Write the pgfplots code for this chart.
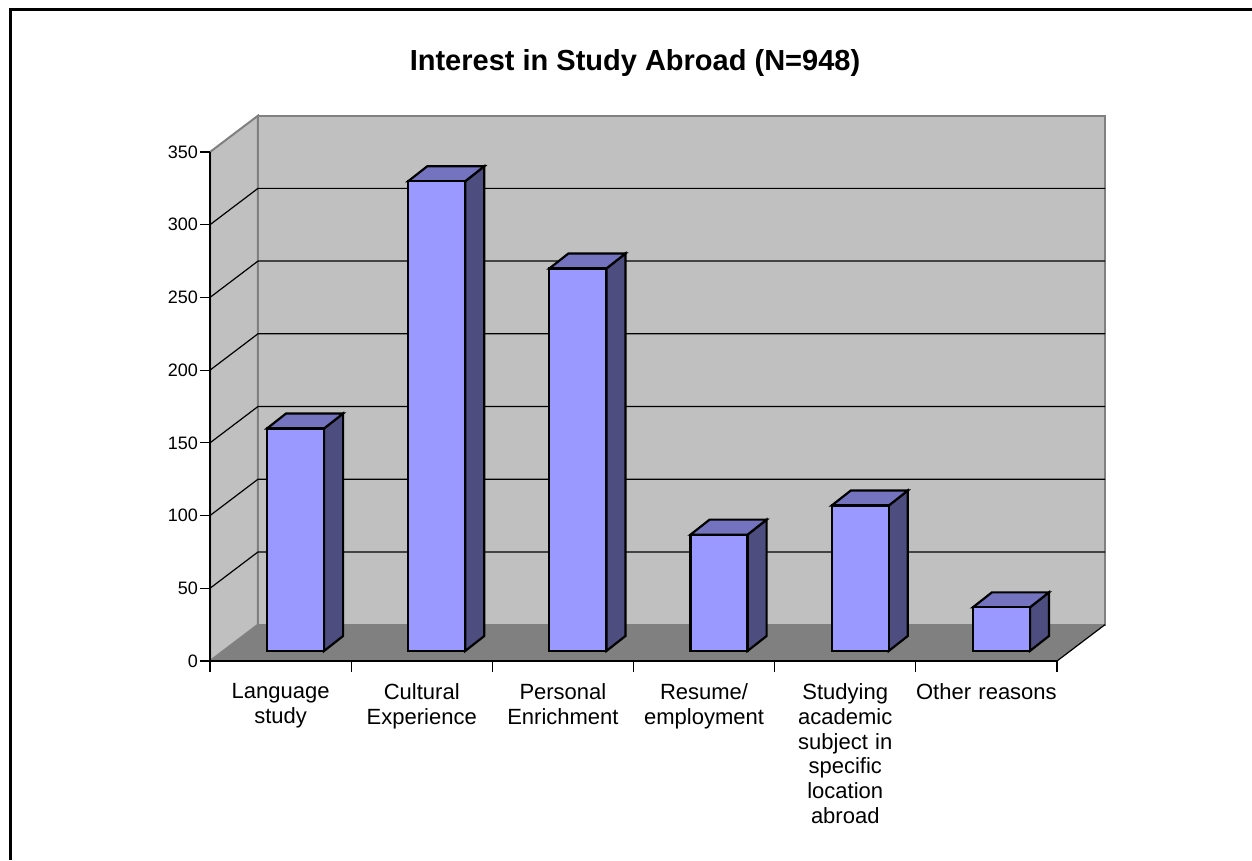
\documentclass[border=0pt]{standalone}
\usepackage{fontspec}
\setmainfont{Liberation Sans}
\usepackage{pgfplots}
\pgfplotsset{compat=1.18}

\definecolor{wall}{HTML}{C0C0C0}
\definecolor{floorc}{HTML}{808080}
\definecolor{barfront}{HTML}{9999FF}
\definecolor{bartop}{HTML}{7373BF}
\definecolor{barside}{HTML}{4D4D80}

\begin{document}
\begin{tikzpicture}
\path[use as bounding box] (0pt,0pt) rectangle (1252pt,860pt);
\draw[line width=3pt] (10pt,0pt) -- (10pt,850pt) -- (1252pt,850pt);
\begin{axis}[
    at={(210pt,199pt)}, anchor=south west,
    scale only axis, width=847pt, height=509pt,
    xmin=0, xmax=6, ymin=0, ymax=350,
    clip=false, axis on top,
    axis x line*=bottom, axis y line*=left,
    axis line style={-, line width=1.5pt, black},
    tick align=outside,
    xtick={0.5,1.5,2.5,3.5,4.5,5.5},
    xticklabels={{Language\\study},{Cultural\\Experience},{Personal\\Enrichment},{Resume/\\employment},{Studying\\academic\\subject in\\specific\\location\\abroad},{Other reasons}},
    minor xtick={0,1,2,3,4,5,6},
    major x tick style={draw=none},
    minor x tick style={line width=1.2pt, black},
    minor tick length=11pt,
    ytick={0,50,100,150,200,250,300,350},
    major y tick style={line width=1.2pt, black},
    major tick length=10pt,
    /pgf/number format/assume math mode=true,
    yticklabel style={font=\fontsize{18}{22}\selectfont, inner sep=2pt},
    xticklabel style={font=\fontsize{22}{24.8}\selectfont, align=center, text width=150pt, anchor=north, yshift=-9pt},
    title={\textbf{Interest in Study Abroad (N=948)}},
    title style={font=\fontsize{29}{34}\selectfont, at={(axis description cs:0.5,1)}, anchor=center, yshift=83pt, xshift=1.5pt},
]
% walls and floor
\addplot[draw=floorc, line width=2pt, fill=wall] coordinates {(0.34,25)(6.34,25)(6.34,375)(0.34,375)} -- cycle;
\addplot[draw=floorc, line width=2pt, fill=wall] coordinates {(0,0)(0.34,25)(0.34,375)(0,350)} -- cycle;
\addplot[draw=none, fill=floorc] coordinates {(0,0)(6,0)(6.34,25)(0.34,25)} -- cycle;
\addplot[black, line width=1.2pt] coordinates {(6,0)(6.34,25)};
% gridlines
\addplot[black, line width=1.2pt] coordinates {(0,50)(0.34,75)(6.34,75)};
\addplot[black, line width=1.2pt] coordinates {(0,100)(0.34,125)(6.34,125)};
\addplot[black, line width=1.2pt] coordinates {(0,150)(0.34,175)(6.34,175)};
\addplot[black, line width=1.2pt] coordinates {(0,200)(0.34,225)(6.34,225)};
\addplot[black, line width=1.2pt] coordinates {(0,250)(0.34,275)(6.34,275)};
\addplot[black, line width=1.2pt] coordinates {(0,300)(0.34,325)(6.34,325)};
% side faces
\addplot[draw=black, line width=2.2pt, fill=barside] coordinates {(0.808,6.9)(0.943,17.2)(0.943,170.2)(0.808,159.9)} -- cycle;
\addplot[draw=black, line width=2.2pt, fill=barside] coordinates {(1.808,6.9)(1.943,17.2)(1.943,340.2)(1.808,329.9)} -- cycle;
\addplot[draw=black, line width=2.2pt, fill=barside] coordinates {(2.808,6.9)(2.943,17.2)(2.943,280.2)(2.808,269.9)} -- cycle;
\addplot[draw=black, line width=2.2pt, fill=barside] coordinates {(3.808,6.9)(3.943,17.2)(3.943,97.2)(3.808,86.9)} -- cycle;
\addplot[draw=black, line width=2.2pt, fill=barside] coordinates {(4.808,6.9)(4.943,17.2)(4.943,117.2)(4.808,106.9)} -- cycle;
\addplot[draw=black, line width=2.2pt, fill=barside] coordinates {(5.808,6.9)(5.943,17.2)(5.943,47.2)(5.808,36.9)} -- cycle;
% top faces
\addplot[draw=black, line width=2.2pt, fill=bartop] coordinates {(0.404,159.9)(0.808,159.9)(0.943,170.2)(0.539,170.2)} -- cycle;
\addplot[draw=black, line width=2.2pt, fill=bartop] coordinates {(1.404,329.9)(1.808,329.9)(1.943,340.2)(1.539,340.2)} -- cycle;
\addplot[draw=black, line width=2.2pt, fill=bartop] coordinates {(2.404,269.9)(2.808,269.9)(2.943,280.2)(2.539,280.2)} -- cycle;
\addplot[draw=black, line width=2.2pt, fill=bartop] coordinates {(3.404,86.9)(3.808,86.9)(3.943,97.2)(3.539,97.2)} -- cycle;
\addplot[draw=black, line width=2.2pt, fill=bartop] coordinates {(4.404,106.9)(4.808,106.9)(4.943,117.2)(4.539,117.2)} -- cycle;
\addplot[draw=black, line width=2.2pt, fill=bartop] coordinates {(5.404,36.9)(5.808,36.9)(5.943,47.2)(5.539,47.2)} -- cycle;
% front faces: the values themselves, lifted onto the floor
\addplot[ybar, bar width=57pt, bar shift=0pt, yshift=10pt, draw=black, line width=2.2pt, fill=barfront]
    coordinates {(0.606,153)(1.606,323)(2.606,263)(3.606,80)(4.606,100)(5.606,30)};
\end{axis}
\end{tikzpicture}
\end{document}
